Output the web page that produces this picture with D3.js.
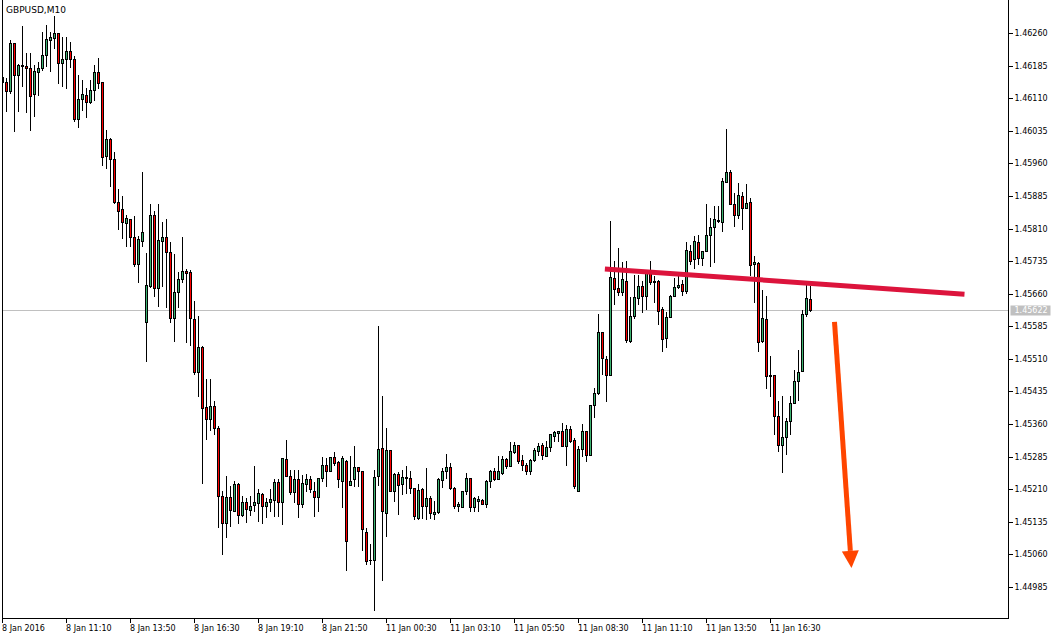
<!DOCTYPE html>
<html><head><meta charset="utf-8">
<script src="https://cdn.jsdelivr.net/npm/d3@7"></script>
<style>
body{margin:0;background:#fff}
svg{display:block}
text{font-family:"DejaVu Sans",sans-serif}
</style>
</head><body>
<svg id="chart" width="1061" height="639"></svg>
<script>
// ---- data (GBPUSD, M10) ----
const opens=[1.46147,1.46148,1.46127,1.46236,1.46164,1.46185,1.46184,1.46179,1.46119,1.46171,
1.46179,1.46210,1.46244,1.46248,1.46259,1.46190,1.46200,1.46219,1.46200,1.46062,
1.46108,1.46118,1.46101,1.46129,1.46171,1.46148,1.45976,1.46016,1.45970,1.45872,
1.45855,1.45822,1.45832,1.45790,1.45729,1.45782,1.45596,1.45677,1.45842,1.45673,
1.45782,1.45790,1.45756,1.45603,1.45664,1.45694,1.45712,1.45710,1.45602,1.45480,
1.45537,1.45399,1.45372,1.45402,1.45351,1.45194,1.45132,1.45192,1.45161,1.45223,
1.45151,1.45180,1.45163,1.45174,1.45178,1.45200,1.45171,1.45180,1.45186,1.45227,
1.45180,1.45280,1.45241,1.45203,1.45234,1.45176,1.45223,1.45234,1.45207,1.45192,
1.45236,1.45266,1.45253,1.45284,1.45272,1.45228,1.45276,1.45220,1.45234,1.45261,
1.45253,1.45111,1.45046,1.45046,1.45240,1.45305,1.45155,1.45301,1.45205,1.45246,
1.45223,1.45235,1.45236,1.45213,1.45144,1.45211,1.45172,1.45190,1.45153,1.45157,
1.45232,1.45251,1.45261,1.45213,1.45171,1.45169,1.45207,1.45236,1.45169,1.45184,
1.45186,1.45176,1.45230,1.45253,1.45234,1.45247,1.45280,1.45263,1.45296,1.45312,
1.45278,1.45266,1.45251,1.45278,1.45297,1.45312,1.45287,1.45307,1.45333,1.45339,
1.45343,1.45310,1.45349,1.45324,1.45207,1.45303,1.45343,1.45289,1.45403,1.45431,
1.45572,1.45510,1.45473,1.45696,1.45673,1.45665,1.45690,1.45552,1.45608,1.45650,
1.45678,1.45654,1.45709,1.45686,1.45690,1.45625,1.45558,1.45606,1.45654,1.45675,
1.45683,1.45667,1.45759,1.45740,1.45779,1.45743,1.45759,1.45795,1.45813,1.45827,
1.45825,1.45918,1.45940,1.45867,1.45842,1.45884,1.45858,1.45871,1.45729,1.45730,
1.45552,1.45602,1.45472,1.45473,1.45379,1.45312,1.45330,1.45366,1.45408,1.45458,
1.45481,1.45613,1.45648];
const highs=[1.46166,1.46157,1.46244,1.46237,1.46189,1.46275,1.46213,1.46213,1.46187,1.46194,
1.46263,1.46279,1.46263,1.46299,1.46261,1.46250,1.46250,1.46240,1.46206,1.46164,
1.46152,1.46133,1.46152,1.46187,1.46202,1.46148,1.46037,1.46018,1.45987,1.45901,
1.45884,1.45842,1.45832,1.45839,1.45792,1.45941,1.45753,1.45867,1.45851,1.45867,
1.45826,1.45832,1.45780,1.45752,1.45709,1.45790,1.45717,1.45715,1.45644,1.45608,
1.45540,1.45464,1.45464,1.45412,1.45356,1.45205,1.45240,1.45218,1.45228,1.45224,
1.45195,1.45190,1.45195,1.45263,1.45211,1.45201,1.45190,1.45211,1.45234,1.45234,
1.45282,1.45324,1.45255,1.45255,1.45255,1.45243,1.45246,1.45241,1.45226,1.45236,
1.45284,1.45282,1.45284,1.45295,1.45276,1.45286,1.45278,1.45286,1.45309,1.45261,
1.45253,1.45121,1.45083,1.45255,1.45585,1.45425,1.45351,1.45301,1.45247,1.45249,
1.45255,1.45263,1.45253,1.45213,1.45223,1.45213,1.45259,1.45195,1.45182,1.45236,
1.45259,1.45292,1.45270,1.45215,1.45180,1.45207,1.45247,1.45236,1.45192,1.45194,
1.45188,1.45232,1.45255,1.45259,1.45286,1.45286,1.45282,1.45319,1.45319,1.45312,
1.45289,1.45270,1.45280,1.45305,1.45316,1.45316,1.45322,1.45338,1.45343,1.45343,
1.45362,1.45358,1.45356,1.45328,1.45310,1.45361,1.45345,1.45404,1.45443,1.45614,
1.45572,1.45516,1.45828,1.45736,1.45765,1.45734,1.45736,1.45652,1.45703,1.45703,
1.45690,1.45713,1.45736,1.45700,1.45692,1.45629,1.45619,1.45657,1.45696,1.45701,
1.45692,1.45780,1.45772,1.45793,1.45795,1.45759,1.45867,1.45834,1.45862,1.45862,
1.45927,1.46039,1.45945,1.45891,1.45914,1.45894,1.45913,1.45881,1.45746,1.45732,
1.45669,1.45654,1.45517,1.45473,1.45414,1.45425,1.45374,1.45425,1.45485,1.45531,
1.45623,1.45680,1.45678];
const lows=[1.46143,1.46081,1.46122,1.46035,1.46081,1.46138,1.46079,1.46037,1.46068,1.46118,
1.46175,1.46183,1.46173,1.46225,1.46146,1.46138,1.46133,1.46181,1.46058,1.46043,
1.46083,1.46066,1.46098,1.46106,1.46133,1.45956,1.45949,1.45907,1.45869,1.45809,
1.45788,1.45769,1.45769,1.45723,1.45688,1.45770,1.45506,1.45676,1.45655,1.45632,
1.45677,1.45629,1.45596,1.45552,1.45629,1.45686,1.45548,1.45542,1.45476,1.45424,
1.45224,1.45326,1.45347,1.45336,1.45123,1.45062,1.45100,1.45126,1.45159,1.45132,
1.45148,1.45134,1.45151,1.45161,1.45136,1.45132,1.45146,1.45159,1.45149,1.45149,
1.45131,1.45240,1.45200,1.45180,1.45146,1.45169,1.45205,1.45203,1.45148,1.45161,
1.45228,1.45218,1.45253,1.45266,1.45215,1.45169,1.45023,1.45220,1.45218,1.45217,
1.45071,1.45037,1.45037,1.44931,1.45220,1.45000,1.45103,1.45205,1.45182,1.45154,
1.45200,1.45201,1.45201,1.45142,1.45142,1.45144,1.45142,1.45144,1.45142,1.45155,
1.45215,1.45236,1.45211,1.45167,1.45159,1.45169,1.45200,1.45159,1.45159,1.45161,
1.45176,1.45169,1.45215,1.45232,1.45234,1.45246,1.45259,1.45263,1.45293,1.45270,
1.45255,1.45246,1.45246,1.45276,1.45289,1.45280,1.45287,1.45297,1.45320,1.45320,
1.45310,1.45266,1.45318,1.45213,1.45207,1.45286,1.45274,1.45289,1.45376,1.45430,
1.45476,1.45414,1.45473,1.45637,1.45657,1.45657,1.45548,1.45548,1.45604,1.45637,
1.45617,1.45625,1.45683,1.45642,1.45591,1.45529,1.45537,1.45606,1.45654,1.45673,
1.45657,1.45661,1.45729,1.45719,1.45729,1.45726,1.45759,1.45724,1.45734,1.45826,
1.45805,1.45918,1.45867,1.45816,1.45834,1.45809,1.45857,1.45703,1.45642,1.45529,
1.45550,1.45443,1.45425,1.45336,1.45299,1.45249,1.45291,1.45336,1.45408,1.45416,
1.45481,1.45609,1.45621];
const closes=[1.46159,1.46127,1.46236,1.46164,1.46187,1.46186,1.46179,1.46116,1.46173,1.46179,
1.46210,1.46246,1.46250,1.46259,1.46190,1.46200,1.46219,1.46200,1.46062,1.46108,
1.46119,1.46101,1.46129,1.46171,1.46144,1.45974,1.46016,1.45970,1.45872,1.45851,
1.45824,1.45834,1.45790,1.45729,1.45786,1.45802,1.45680,1.45842,1.45673,1.45784,
1.45790,1.45755,1.45603,1.45664,1.45694,1.45712,1.45707,1.45603,1.45480,1.45537,
1.45397,1.45372,1.45402,1.45351,1.45195,1.45132,1.45192,1.45163,1.45223,1.45151,
1.45180,1.45165,1.45172,1.45181,1.45201,1.45171,1.45181,1.45188,1.45227,1.45180,
1.45282,1.45240,1.45203,1.45234,1.45176,1.45224,1.45234,1.45211,1.45192,1.45236,
1.45266,1.45253,1.45284,1.45270,1.45234,1.45282,1.45090,1.45230,1.45261,1.45253,
1.45119,1.45044,1.45047,1.45238,1.45303,1.45159,1.45301,1.45205,1.45246,1.45219,
1.45238,1.45238,1.45213,1.45148,1.45209,1.45171,1.45190,1.45155,1.45158,1.45234,
1.45253,1.45261,1.45213,1.45172,1.45175,1.45207,1.45236,1.45169,1.45190,1.45188,
1.45176,1.45230,1.45253,1.45234,1.45251,1.45280,1.45263,1.45299,1.45312,1.45276,
1.45265,1.45253,1.45278,1.45301,1.45310,1.45288,1.45307,1.45338,1.45341,1.45343,
1.45310,1.45349,1.45320,1.45217,1.45303,1.45343,1.45289,1.45404,1.45431,1.45572,
1.45512,1.45473,1.45698,1.45671,1.45665,1.45694,1.45554,1.45609,1.45652,1.45678,
1.45654,1.45709,1.45686,1.45690,1.45621,1.45556,1.45606,1.45655,1.45675,1.45680,
1.45667,1.45761,1.45736,1.45782,1.45743,1.45759,1.45795,1.45813,1.45832,1.45830,
1.45920,1.45940,1.45867,1.45840,1.45888,1.45858,1.45868,1.45726,1.45734,1.45550,
1.45604,1.45470,1.45471,1.45378,1.45312,1.45330,1.45366,1.45408,1.45460,1.45480,
1.45613,1.45650,1.45622];

const symbolTitle="GBPUSD,M10";
const timeLabels=["8 Jan 2016","8 Jan 11:10","8 Jan 13:50","8 Jan 16:30","8 Jan 19:10","8 Jan 21:50",
"11 Jan 00:30","11 Jan 03:10","11 Jan 05:50","11 Jan 08:30","11 Jan 11:10","11 Jan 13:50","11 Jan 16:30"];
const timeLabelBars=[0,16,32,48,64,80,96,112,128,144,160,176,192];
const priceTicks=["1.46260","1.46185","1.46110","1.46035","1.45960","1.45885","1.45810","1.45735","1.45660",
"1.45585","1.45510","1.45435","1.45360","1.45285","1.45210","1.45135","1.45060","1.44985"];
const currentPrice=1.45622;
const trendLine=[{bar:150.6,price:1.45717},{bar:240.5,price:1.45659}];
const arrowLine=[{bar:208.0,price:1.45595},{bar:212.25,price:1.45029}];

// ---- layout ----
const plotL=2.5,plotR=1008.5,plotT=-0.5,plotB=618.5;
const svg=d3.select("#chart");

const x=d3.scaleLinear().domain([0,252]).range([2.5,1010.5]);
const y=d3.scaleLinear().domain([1.44985,1.46260]).range([587,33]);
const py=v=>Math.round(y(v))+0.5;

const bars=opens.map((o,i)=>({i,o,h:highs[i],l:lows[i],c:closes[i]}));

svg.append("defs").append("clipPath").attr("id","clip")
  .append("rect").attr("x",plotL).attr("y",0).attr("width",plotR-plotL).attr("height",plotB);

const plot=svg.append("g").attr("clip-path","url(#clip)");

// current price line
plot.append("line").attr("x1",plotL).attr("x2",plotR)
  .attr("y1",py(currentPrice)).attr("y2",py(currentPrice))
  .attr("stroke","#c0c0c0").attr("stroke-width",1).attr("shape-rendering","crispEdges");

// candles
const cg=plot.append("g").attr("shape-rendering","crispEdges");
const cand=cg.selectAll("g.c").data(bars).join("g").attr("class","c");
cand.append("line")
  .attr("x1",d=>x(d.i)).attr("x2",d=>x(d.i))
  .attr("y1",d=>py(d.h)-0.5).attr("y2",d=>py(d.l)+0.5)
  .attr("stroke","#000").attr("stroke-width",1);
cand.each(function(d){
  const g=d3.select(this);
  const yt=py(Math.max(d.o,d.c)), yb=py(Math.min(d.o,d.c));
  if(yb-yt<1){
    g.append("line").attr("x1",x(d.i)-1.5).attr("x2",x(d.i)+1.5)
     .attr("y1",yt).attr("y2",yt).attr("stroke","#000");
  } else {
    g.append("rect").attr("x",x(d.i)-1).attr("width",2)
     .attr("y",yt).attr("height",yb-yt)
     .attr("fill",d.c>=d.o?"#3cb371":"#ff0000")
     .attr("stroke","#000").attr("stroke-width",1);
  }
});

// trend line
plot.append("line")
  .attr("x1",x(trendLine[0].bar)).attr("y1",y(trendLine[0].price))
  .attr("x2",x(trendLine[1].bar)).attr("y2",y(trendLine[1].price))
  .attr("stroke","#dc143c").attr("stroke-width",5);

// arrow
{
  const x1=x(arrowLine[0].bar),y1=y(arrowLine[0].price),x2=x(arrowLine[1].bar),y2=y(arrowLine[1].price);
  const dx=x2-x1,dy=y2-y1,len=Math.hypot(dx,dy),ux=dx/len,uy=dy/len;
  const headL=17,headW=8.5;
  const bx=x2-ux*headL,by=y2-uy*headL;
  plot.append("line").attr("x1",x1).attr("y1",y1).attr("x2",bx).attr("y2",by)
    .attr("stroke","#ff4500").attr("stroke-width",5);
  plot.append("path")
    .attr("d",`M${x2},${y2}L${bx-uy*headW},${by+ux*headW}L${bx+uy*headW},${by-ux*headW}Z`)
    .attr("fill","#ff4500");
}

// frame (left, right, bottom)
svg.append("path")
  .attr("d",`M${plotL},0V${plotB}H${plotR}V0`)
  .attr("fill","none").attr("stroke","#000").attr("shape-rendering","crispEdges");

// title
svg.append("text").attr("x",6).attr("y",13).attr("font-size",9).attr("fill","#000").text(symbolTitle);

// right price axis
const yAxis=d3.axisRight(y).tickValues(priceTicks.map(Number)).tickSize(4).tickPadding(2)
  .tickFormat((d,i)=>priceTicks[i]);
const ya=svg.append("g").attr("transform",`translate(${plotR},0)`).call(yAxis);
ya.select(".domain").remove();
ya.selectAll(".tick").attr("transform",d=>`translate(0,${py(d)})`);
ya.selectAll(".tick line").attr("stroke","#000").attr("shape-rendering","crispEdges");
ya.selectAll(".tick text").attr("font-size",8).attr("font-family","DejaVu Sans").attr("fill","#000");

// current price tag
const tagY=py(currentPrice);
svg.append("rect").attr("x",plotR+2).attr("y",tagY-5).attr("width",40).attr("height",10).attr("fill","#c0c0c0");
svg.append("text").attr("x",plotR+6).attr("y",tagY).attr("dy","0.36em").attr("font-size",8)
  .attr("fill","#fff").text(currentPrice.toFixed(5));

// bottom time axis
const xAxis=d3.axisBottom(x).tickValues(timeLabelBars).tickSize(4).tickPadding(3)
  .tickFormat((d,i)=>timeLabels[i]);
const xa=svg.append("g").attr("transform",`translate(0,${plotB})`).call(xAxis);
xa.select(".domain").remove();
xa.selectAll(".tick").attr("transform",d=>`translate(${x(d)},0)`);
xa.selectAll(".tick line").attr("stroke","#000").attr("shape-rendering","crispEdges");
xa.selectAll(".tick text").attr("font-size",8).attr("font-family","DejaVu Sans").attr("fill","#000")
  .attr("text-anchor","start").attr("x",-0.5);
</script>
</body></html>
